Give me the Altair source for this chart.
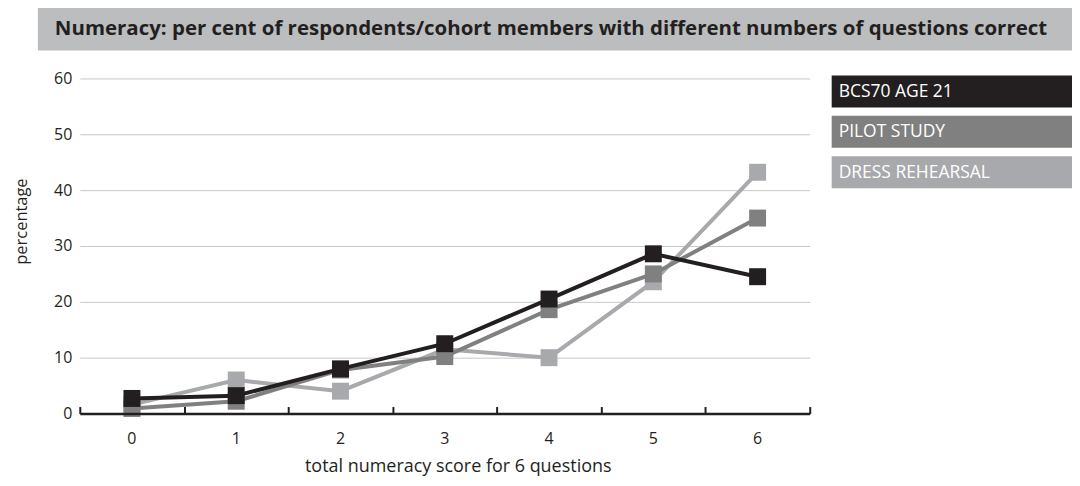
import altair as alt
import pandas as pd

# ---- data ----
scores = [0, 1, 2, 3, 4, 5, 6]
series_names = ["BCS70 AGE 21", "PILOT STUDY", "DRESS REHEARSAL"]
bcs70 = [2.7, 3.2, 8.0, 12.5, 20.5, 28.6, 24.5]
pilot = [0.9, 2.2, 7.8, 10.2, 18.6, 25.0, 35.0]
dress = [1.6, 6.0, 4.0, 11.5, 10.0, 23.6, 43.2]
colors = ["#231f20", "#808080", "#a8a9ac"]
y_ticks = [0, 10, 20, 30, 40, 50, 60]

title_text = "Numeracy: per cent of respondents/cohort members with different numbers of questions correct"

values = {"BCS70 AGE 21": bcs70, "PILOT STUDY": pilot, "DRESS REHEARSAL": dress}
rows = []
for name in series_names:
    for s, v in zip(scores, values[name]):
        rows.append({"score": s, "pct": v, "series": name})
df = pd.DataFrame(rows)

W, H = 732, 336
FONT = "Open Sans"
TXT = "#231f20"

color_scale = alt.Scale(domain=series_names, range=colors)
x_scale = alt.Scale(domain=scores, paddingInner=0, paddingOuter=0)

x_main = alt.X(
    "score:O",
    scale=x_scale,
    axis=alt.Axis(
        orient="bottom", domain=False, ticks=False, grid=False, labelAngle=0,
        labelPadding=17, labelFontSize=16, labelColor=TXT, labelFont=FONT,
        title="total numeracy score for 6 questions", titleFontSize=18,
        titleFont=FONT, titleFontWeight="normal", titleColor=TXT,
        titleX=379, titleY=53, titleAlign="center", titleBaseline="middle",
    ),
)
x_none = alt.X("score:O", scale=x_scale, axis=None)
x_ticks = alt.X(
    "score:O",
    scale=x_scale,
    axis=alt.Axis(
        orient="top", offset=-H, labels=False, title=None, grid=False,
        domain=True, domainColor=TXT, domainWidth=2.5,
        ticks=True, tickBand="extent", tickSize=7, tickWidth=2, tickColor=TXT,
        zindex=1,
    ),
)
y_enc = alt.Y(
    "pct:Q",
    scale=alt.Scale(domain=[0, 60], nice=False, zero=True),
    axis=alt.Axis(
        values=y_ticks, domain=False, ticks=False, grid=True,
        gridColor="#c8c8c8", gridWidth=1, labelPadding=8, labelFontSize=16,
        labelColor=TXT, labelFont=FONT,
        title="percentage", titleFontSize=16.5, titleFont=FONT,
        titleFontWeight="normal", titleColor=TXT, titleAngle=-90,
        titleX=-58, titleY=143, titleAlign="center", titleBaseline="middle",
    ),
)

# axis with upward ticks along the bottom (drawn first so it owns the y axis too)
tick_axis = alt.Chart(df).mark_point(opacity=0).encode(x=x_ticks, y=y_enc)

layers = []
draw_order = ["DRESS REHEARSAL", "PILOT STUDY", "BCS70 AGE 21"]
for k, name in enumerate(draw_order):
    sub = alt.Chart(df).transform_filter(alt.datum.series == name)
    line = sub.mark_line(strokeWidth=4).encode(
        x=x_main if k == 0 else x_none, y=y_enc,
        color=alt.Color("series:N", scale=color_scale, legend=None),
    )
    pts = sub.mark_square(size=289, opacity=1, filled=True).encode(
        x=x_none, y=y_enc,
        color=alt.Color("series:N", scale=color_scale, legend=None),
    )
    layers += [line, pts]

one = pd.DataFrame({"k": [0]})

# title banner
banner = alt.Chart(one).mark_rect(color="#bcbdbf").encode(
    x=alt.value(-42), x2=alt.value(995), y=alt.value(-72), y2=alt.value(-28)
)
banner_text = alt.Chart(one).mark_text(
    text=title_text, align="left", baseline="middle", font=FONT,
    fontSize=20.5, fontWeight="bold", color=TXT,
).encode(x=alt.value(-25), y=alt.value(-50))

# legend boxes
leg_layers = []
for i, name in enumerate(series_names):
    top = -3 + 40.5 * i
    leg_layers.append(
        alt.Chart(one).mark_rect(color=colors[i]).encode(
            x=alt.value(754), x2=alt.value(995), y=alt.value(top), y2=alt.value(top + 32)
        )
    )
    leg_layers.append(
        alt.Chart(one).mark_text(
            text=name, align="left", baseline="middle", font=FONT,
            fontSize=17.5, color="white",
        ).encode(x=alt.value(761), y=alt.value(top + 16.5))
    )

chart = alt.layer(
    tick_axis, banner, banner_text, *layers, *leg_layers
).resolve_axis(x="independent").properties(
    width=W, height=H,
    background="white",
    autosize=alt.AutoSizeParams(type="none"),
    padding={"left": 72, "top": 70, "right": 263, "bottom": 64},
).configure_view(strokeWidth=0, stroke="transparent")

chart.save("out.html", embed_options={"renderer": "svg", "actions": False})
